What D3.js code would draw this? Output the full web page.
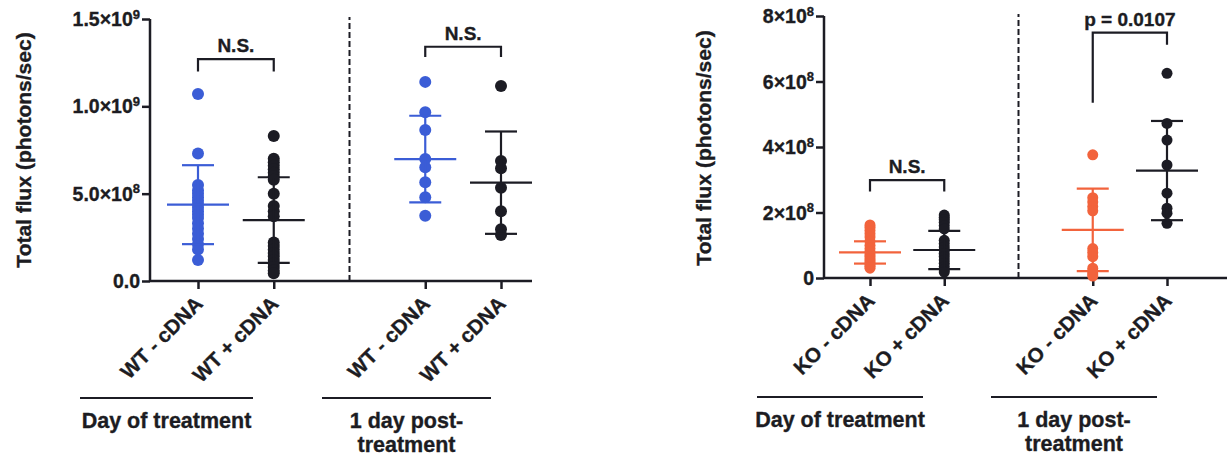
<!DOCTYPE html>
<html>
<head>
<meta charset="utf-8">
<script src="https://cdn.jsdelivr.net/npm/d3@7/dist/d3.min.js"></script>
<style>
  html, body { margin: 0; padding: 0; background: #ffffff; }
  svg text {
    font-family: "Liberation Sans", Arial, Helvetica, sans-serif; font-weight: bold;
    fill: #1c1c22; stroke: #1c1c22; stroke-width: 0.35px; paint-order: stroke;
  }
</style>
</head>
<body>
<script>
// ---------- WT panel data (total flux, photons/sec) ----------
const wtCategories = ["WT - cDNA", "WT + cDNA", "WT - cDNA", "WT + cDNA"];
const wtDay0Minus = [1.07e9, 0.73e9, 0.55e9, 0.52e9, 0.50e9, 0.48e9, 0.46e9, 0.44e9, 0.42e9, 0.40e9,
                     0.38e9, 0.36e9, 0.33e9, 0.30e9, 0.27e9, 0.24e9, 0.21e9, 0.18e9, 0.12e9];
const wtDay0Plus  = [0.83e9, 0.70e9, 0.68e9, 0.66e9, 0.64e9, 0.62e9, 0.60e9, 0.58e9, 0.50e9, 0.43e9,
                     0.40e9, 0.37e9, 0.22e9, 0.20e9, 0.18e9, 0.16e9, 0.14e9, 0.12e9, 0.10e9, 0.08e9,
                     0.06e9, 0.045e9];
const wtDay1Minus = [1.14e9, 0.966e9, 0.864e9, 0.698e9, 0.651e9, 0.565e9, 0.479e9, 0.374e9];
const wtDay1Plus  = [1.116e9, 0.687e9, 0.645e9, 0.534e9, 0.40e9, 0.296e9, 0.263e9];
const wtMeans = [0.437e9, 0.349e9, 0.698e9, 0.563e9];
const wtSDs   = [0.226e9, 0.245e9, 0.248e9, 0.293e9];
const wtTickValues = [0, 5e8, 1e9, 1.5e9];
const wtTickLabels = [["0.0", ""], ["5.0×10", "8"], ["1.0×10", "9"], ["1.5×10", "9"]];

// ---------- KO panel data ----------
const koCategories = ["KO - cDNA", "KO + cDNA", "KO - cDNA", "KO + cDNA"];
const koDay0Minus = [1.62e8, 1.55e8, 1.45e8, 1.35e8, 1.25e8, 1.12e8, 1.00e8, 0.90e8, 0.80e8, 0.72e8,
                     0.65e8, 0.58e8, 0.52e8, 0.46e8, 0.40e8, 0.35e8, 0.30e8];
const koDay0Plus  = [1.92e8, 1.85e8, 1.78e8, 1.70e8, 1.60e8, 1.50e8, 1.15e8, 1.05e8, 0.95e8, 0.85e8,
                     0.75e8, 0.65e8, 0.55e8, 0.45e8, 0.35e8, 0.25e8, 0.18e8];
const koDay1Minus = [3.76e8, 2.45e8, 2.32e8, 2.18e8, 2.05e8, 0.90e8, 0.78e8, 0.65e8, 0.30e8, 0.20e8,
                     0.12e8, 0.06e8];
const koDay1Plus  = [6.25e8, 4.72e8, 4.21e8, 3.45e8, 2.59e8, 2.13e8, 1.98e8, 1.67e8];
const koMeans = [0.78e8, 0.855e8, 1.47e8, 3.28e8];
const koSDs   = [0.34e8, 0.585e8, 1.26e8, 1.515e8];
const koTickValues = [0, 2e8, 4e8, 6e8, 8e8];
const koTickLabels = [["0", ""], ["2×10", "8"], ["4×10", "8"], ["6×10", "8"], ["8×10", "8"]];

// ---------- shared labels ----------
const yAxisTitle = "Total flux (photons/sec)";
const groupLabels = [["Day of treatment"], ["1 day post-", "treatment"]];
const wtComparisons = ["N.S.", "N.S."];
const koComparisons = ["N.S.", "p = 0.0107"];

const slots = ["g0a", "g0b", "gap", "g1a", "g1b"];
const catSlots = ["g0a", "g0b", "g1a", "g1b"];

const ink = "#1c1c24";
const blue = "#3b5dd6";
const orange = "#f2633c";

const svg = d3.select("body").append("svg")
  .attr("width", 1227).attr("height", 459);

function drawPanel(cfg) {
  const g = svg.append("g");
  const x = d3.scalePoint().domain(slots).range(cfg.xRange);
  const y = d3.scaleLinear().domain(cfg.yDomain).range(cfg.yRange);
  const y0 = y(0);

  // y axis
  const yAxis = g.append("g")
    .attr("transform", `translate(${cfg.axisX},0)`)
    .call(d3.axisLeft(y).tickValues(cfg.tickValues).tickSize(8).tickSizeOuter(0).tickFormat(""));
  yAxis.selectAll("path, line").attr("stroke", ink).attr("stroke-width", 2.5);
  yAxis.select("path.domain").attr("d", `M0,${y0}V${y(cfg.yDomain[1])}`);

  const tl = g.append("g").selectAll("text")
    .data(cfg.tickValues)
    .join("text")
    .attr("x", cfg.axisX - 10)
    .attr("y", d => y(d) + 7)
    .attr("text-anchor", "end")
    .style("font-size", "19.5px");
  tl.each(function(d, i) {
    const t = d3.select(this);
    const lab = cfg.tickLabels[i];
    t.append("tspan").text(lab[0]);
    if (lab[1]) t.append("tspan").attr("dy", -7.5).style("font-size", "13px").text(lab[1]);
  });

  // x axis
  g.append("line")
    .attr("x1", cfg.axisX).attr("x2", cfg.xAxisEnd)
    .attr("y1", y0).attr("y2", y0)
    .attr("stroke", ink).attr("stroke-width", 2.5);
  const xAxis = g.append("g")
    .attr("transform", `translate(0,${y0})`)
    .call(d3.axisBottom(x).tickValues(catSlots).tickSize(8).tickSizeOuter(0).tickFormat(""));
  xAxis.select("path.domain").remove();
  xAxis.selectAll("line").attr("stroke", ink).attr("stroke-width", 2.5);

  // category labels
  g.append("g").selectAll("text")
    .data(cfg.categories)
    .join("text")
    .attr("transform", (d, i) => `translate(${x(catSlots[i]) + 6},${y0 + 24}) rotate(-45)`)
    .attr("text-anchor", "end")
    .style("font-size", "20.5px")
    .text(d => d);

  // dashed divider between time points
  g.append("line")
    .attr("x1", x("gap")).attr("x2", x("gap"))
    .attr("y1", y0).attr("y2", y(cfg.yDomain[1]) - 2)
    .attr("stroke", ink).attr("stroke-width", 2)
    .attr("stroke-dasharray", "6,3");

  // points
  cfg.series.forEach((vals, i) => {
    g.append("g").selectAll("circle")
      .data(vals)
      .join("circle")
      .attr("cx", x(catSlots[i]))
      .attr("cy", d => y(d))
      .attr("r", cfg.radius)
      .attr("fill", cfg.colors[i]);
  });

  // mean ± SD
  cfg.means.forEach((m, i) => {
    const cx = x(catSlots[i]);
    const s = cfg.sds[i];
    const col = cfg.colors[i];
    const eg = g.append("g").attr("stroke", col).attr("stroke-width", 2.2);
    eg.append("line").attr("x1", cx).attr("x2", cx).attr("y1", y(m + s)).attr("y2", y(m - s));
    eg.append("line").attr("x1", cx - 16).attr("x2", cx + 16).attr("y1", y(m + s)).attr("y2", y(m + s));
    eg.append("line").attr("x1", cx - 16).attr("x2", cx + 16).attr("y1", y(m - s)).attr("y2", y(m - s));
    eg.append("line").attr("x1", cx - 31).attr("x2", cx + 31).attr("y1", y(m)).attr("y2", y(m));
  });

  // comparison brackets
  cfg.brackets.forEach((b, i) => {
    const xa = x(catSlots[b.a]), xb = x(catSlots[b.b]);
    const top = y(b.top);
    g.append("path")
      .attr("d", `M${xa},${y(b.leftEnd)}V${top}H${xb}V${y(b.rightEnd)}`)
      .attr("fill", "none").attr("stroke", ink).attr("stroke-width", 2.2);
    g.append("text")
      .attr("x", (xa + xb) / 2)
      .attr("y", top - 7)
      .attr("text-anchor", "middle")
      .style("font-size", "19px")
      .text(cfg.comparisons[i]);
  });

  // y axis title
  g.append("text")
    .attr("transform", `translate(${cfg.titleX},${cfg.titleY}) rotate(-90)`)
    .attr("text-anchor", "middle")
    .style("font-size", "21px")
    .text(yAxisTitle);

  // time-point group labels
  groupLabels.forEach((lines, gi) => {
    const [l0, l1] = cfg.groupSpans[gi];
    g.append("line")
      .attr("x1", l0).attr("x2", l1)
      .attr("y1", cfg.groupLineY).attr("y2", cfg.groupLineY)
      .attr("stroke", ink).attr("stroke-width", 2.2);
    const t = g.append("text")
      .attr("x", (l0 + l1) / 2)
      .attr("y", cfg.groupLineY + 30)
      .attr("text-anchor", "middle")
      .style("font-size", "21.5px");
    lines.forEach((ln, k) => {
      t.append("tspan").attr("x", (l0 + l1) / 2).attr("dy", k === 0 ? 0 : 24).text(ln);
    });
  });
}

drawPanel({
  categories: wtCategories,
  series: [wtDay0Minus, wtDay0Plus, wtDay1Minus, wtDay1Plus],
  means: wtMeans, sds: wtSDs,
  colors: [blue, ink, blue, ink],
  tickValues: wtTickValues, tickLabels: wtTickLabels,
  comparisons: wtComparisons,
  brackets: [
    { a: 0, b: 1, top: 1.27e9, leftEnd: 1.20e9, rightEnd: 1.20e9 },
    { a: 2, b: 3, top: 1.341e9, leftEnd: 1.282e9, rightEnd: 1.282e9 }
  ],
  xRange: [198, 501], yDomain: [0, 1.5e9], yRange: [281, 19],
  axisX: 150, xAxisEnd: 532, radius: 6,
  titleX: 31, titleY: 150,
  groupSpans: [[80, 253], [322, 491]], groupLineY: 398
});

drawPanel({
  categories: koCategories,
  series: [koDay0Minus, koDay0Plus, koDay1Minus, koDay1Plus],
  means: koMeans, sds: koSDs,
  colors: [orange, ink, orange, ink],
  tickValues: koTickValues, tickLabels: koTickLabels,
  comparisons: koComparisons,
  brackets: [
    { a: 0, b: 1, top: 2.99e8, leftEnd: 2.64e8, rightEnd: 2.64e8 },
    { a: 2, b: 3, top: 7.49e8, leftEnd: 5.35e8, rightEnd: 7.12e8 }
  ],
  xRange: [870, 1167], yDomain: [0, 8e8], yRange: [278, 16],
  axisX: 824, xAxisEnd: 1227, radius: 5.5,
  titleX: 711, titleY: 148,
  groupSpans: [[757, 923], [991, 1157]], groupLineY: 397
});
</script>
</body>
</html>
